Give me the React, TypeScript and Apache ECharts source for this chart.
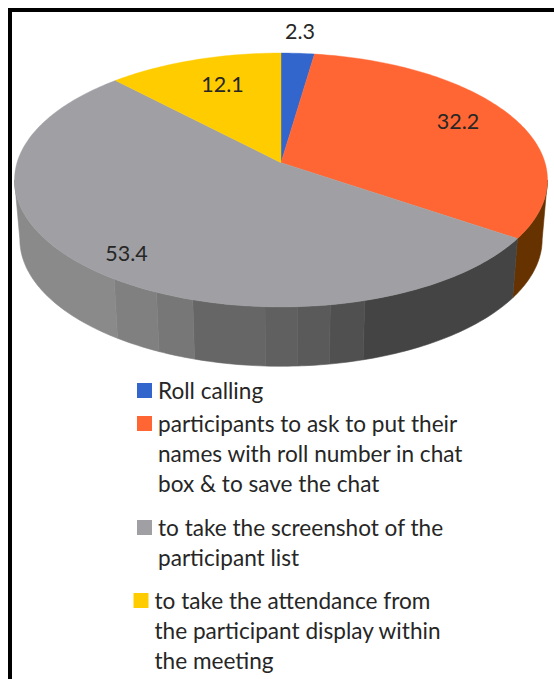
import React, { useEffect, useRef } from "react";
import * as echarts from "echarts";

const sliceNames = ["Roll calling", "participants to ask to put their names with roll number in chat box & to save the chat", "to take the screenshot of the participant list", "to take the attendance from the participant display within the meeting"];
const sliceValues = [2.3, 32.2, 53.4, 12.1];
const sliceColors = ["#3366CC", "#FF6633", "#A09FA3", "#FFCC00"];
const labelPositions = [[300, 31], [458, 121], [126.5, 253], [222.5, 84]];

// Shaded facets of the pie's outer wall: [from degree, to degree] clockwise from 12 o'clock
const wallFrom = [97.8, 124.2, 164, 170.7, 176.9, 183, 196.9, 204.4, 214.1];
const wallTo = [124.2, 164, 170.7, 176.9, 183, 196.9, 204.4, 214.1, 262.2];
const wallShades = ["#663300", "#444444", "#505050", "#5A5A5A", "#606060", "#666666", "#777777", "#808080", "#8A8A8A"];

const legendRows = [
  { square: [137, 383], color: 0, x: 158, lines: [["Roll calling", 390]] },
  { square: [137, 416], color: 1, x: 158, lines: [["participants to ask to put their", 423], ["names with roll number in chat", 453], ["box & to save the chat", 483]] },
  { square: [137, 520], color: 2, x: 158, lines: [["to take the screenshot of the", 527], ["participant list", 557]] },
  { square: [133.5, 593], color: 3, x: 154.5, lines: [["to take the attendance from", 600], ["the participant display within", 630], ["the meeting", 660]] },
];

const FONT = "Lato, Carlito, 'Open Sans', sans-serif";
const APEX_X = 281, APEX_Y = 162.7, SCALE_X = 264, SCALE_Y = 124.6, PERSP = 0.1362;
const WALL_SX = 0.98, WALL_SY = 1.0, WALL_Y0 = 222;

function rim(deg: number): [number, number] {
  const t = (deg * Math.PI) / 180;
  const u = Math.sin(t), v = -Math.cos(t);
  const d = 1 - PERSP * v;
  return [APEX_X + (SCALE_X * u) / d, APEX_Y + (SCALE_Y * v) / d];
}
function rimBottom(deg: number): [number, number] {
  const [x, y] = rim(deg);
  return [APEX_X + (x - APEX_X) * WALL_SX, WALL_Y0 + (y - APEX_Y) * WALL_SY];
}
function arc(a: number, b: number, f: (d: number) => [number, number]) {
  const n = Math.max(2, Math.ceil(Math.abs(b - a)));
  const pts: [number, number][] = [];
  for (let i = 0; i <= n; i++) pts.push(f(a + ((b - a) * i) / n));
  return pts;
}

export default function App() {
  const ref = useRef<HTMLDivElement>(null);
  useEffect(() => {
    const chart = echarts.init(ref.current!, undefined, { renderer: "svg" });
    const total = sliceValues.reduce((a, b) => a + b, 0);
    const starts: number[] = [];
    let acc = 0;
    sliceValues.forEach((v) => { starts.push((acc / total) * 360); acc += v; });

    const graphic: any[] = [
      { type: "rect", shape: { x: 8, y: 8, width: 4, height: 671 }, style: { fill: "#000" } },
      { type: "rect", shape: { x: 8, y: 8, width: 546, height: 4 }, style: { fill: "#000" } },
    ];
    legendRows.forEach((r) => {
      graphic.push({ type: "rect", shape: { x: r.square[0], y: r.square[1], width: 15, height: 15 }, style: { fill: sliceColors[r.color] } });
      r.lines.forEach((l) => {
        graphic.push({ type: "text", x: r.x, y: l[1] as number, style: { text: l[0] as string, fill: "#262626", font: `22.6px ${FONT}`, textVerticalAlign: "middle", textAlign: "left" } });
      });
    });

    chart.setOption({
      animation: false,
      backgroundColor: "#fff",
      graphic,
      series: [
        {
          type: "custom",
          coordinateSystem: "none",
          silent: true,
          z: 1,
          data: wallFrom.map((f, i) => [f, wallTo[i]]),
          renderItem: (params: any, api: any) => {
            const a = api.value(0), b = api.value(1);
            const pts = [...arc(a, b, rim), ...arc(b, a, rimBottom)];
            const c = wallShades[params.dataIndex];
            return { type: "polygon", shape: { points: pts }, style: { fill: c, stroke: c, lineWidth: 0.6 } };
          },
        },
        {
          type: "custom",
          coordinateSystem: "none",
          silent: true,
          z: 2,
          data: sliceValues.map((v, i) => ({ value: [v], name: sliceNames[i] })),
          renderItem: (params: any, api: any) => {
            const i = params.dataIndex;
            const a = starts[i];
            const b = a + (api.value(0) / total) * 360;
            const c = sliceColors[i];
            return {
              type: "polygon",
              shape: { points: [[APEX_X, APEX_Y], ...arc(a, b, rim)] },
              style: { fill: c, stroke: c, lineWidth: 0.4 },
            };
          },
        },
        {
          type: "custom",
          coordinateSystem: "none",
          silent: true,
          z: 3,
          data: sliceValues.map((v) => [v]),
          renderItem: (params: any, api: any) => {
            const p = labelPositions[params.dataIndex];
            return {
              type: "text",
              x: p[0],
              y: p[1],
              style: { text: api.value(0).toFixed(1), fill: "#262626", font: `21.5px ${FONT}`, textAlign: "center", textVerticalAlign: "middle" },
            };
          },
        },
      ],
    });
    return () => chart.dispose();
  }, []);
  return <div ref={ref} style={{ position: "fixed", left: 0, top: 0, width: 554, height: 679 }} />;
}
